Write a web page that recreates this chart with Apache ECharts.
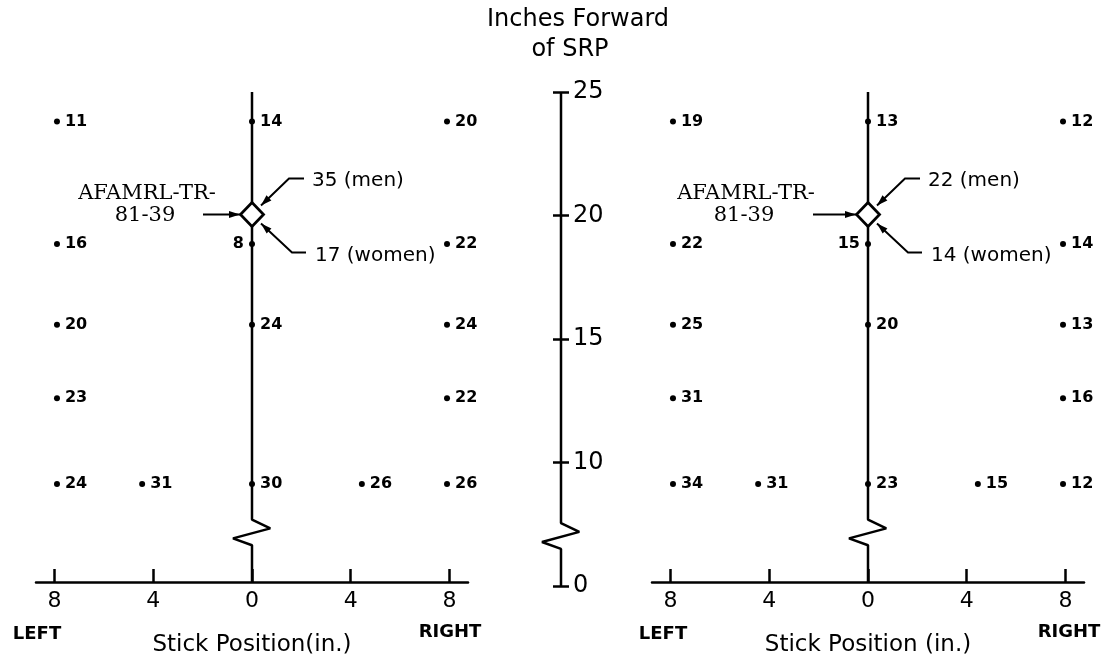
<!DOCTYPE html>
<html><head><meta charset="utf-8">
<script src="https://cdn.jsdelivr.net/npm/echarts@6/dist/echarts.min.js"></script>
<style>html,body{margin:0;padding:0;background:#fff}#c{width:1110px;height:662px}</style>
</head><body><div id="c"></div><script>
// ---- data ----
const xTicks = [-8, -4, 0, 4, 8];          // stick position ticks (shown as absolute values)
const yTicks = [5, 10, 15, 20, 25];        // 5 = broken-axis origin, labelled "0"
const yBreakOrigin = 5;

// Panel 1
const p1X = [-7.9, 0, 7.9, -7.9, 0, 7.9, -7.9, 0, 7.9, -7.9, 7.9, -7.9, -4.45, 0, 4.45, 7.9];
const p1Y = [23.8, 23.8, 23.8, 18.8, 18.8, 18.8, 15.5, 15.5, 15.5, 12.5, 12.5, 9, 9, 9, 9, 9];
const p1N = [11, 14, 20, 16, 8, 22, 20, 24, 24, 23, 22, 24, 31, 30, 26, 26];
// Panel 2
const p2X = [-7.9, 0, 7.9, -7.9, 0, 7.9, -7.9, 0, 7.9, -7.9, 7.9, -7.9, -4.45, 0, 4.45, 7.9];
const p2Y = [23.8, 23.8, 23.8, 18.8, 18.8, 18.8, 15.5, 15.5, 15.5, 12.5, 12.5, 9, 9, 9, 9, 9];
const p2N = [19, 13, 12, 22, 15, 14, 25, 20, 13, 31, 16, 34, 31, 23, 15, 12];

// AFAMRL-TR-81-39 reference point (diamond) and its counts
const refX = [0, 0];
const refY = [20, 20];
const refMen = [35, 22];
const refWomen = [17, 14];

// stick line / axis with break zigzag (axis units)
const breakPath = [[0, 25], [0, 7.55], [0.74, 7.19], [-0.77, 6.78], [0, 6.5], [0, 5]];

const SANS = 'DejaVu Sans';
const SERIF = 'DejaVu Serif';

function pts(X, Y, N) {
  return X.map((x, i) => {
    const item = { value: [x, Y[i], N[i]] };
    if (x === 0 && Y[i] === 18.8) item.label = { position: 'left', distance: 5 };
    return item;
  });
}

const xAxisCommon = (gi, name) => ({
  gridIndex: gi, type: 'value', min: -8.75, max: 8.75,
  axisLine: { onZero: false, lineStyle: { color: '#000', width: 2.5 } },
  axisTick: { inside: true, length: 13, customValues: xTicks, lineStyle: { color: '#000', width: 2.5 } },
  axisLabel: { customValues: xTicks, formatter: v => String(Math.abs(v)), fontSize: 22, fontFamily: SANS, color: '#000', margin: 8 },
  splitLine: { show: false },
  name: name, nameLocation: 'middle', nameGap: 52,
  nameTextStyle: { fontSize: 23, fontFamily: SANS, color: '#000' }
});
const yHidden = gi => ({ gridIndex: gi, type: 'value', min: 5, max: 25, show: false });

const ptSeries = (xi, data) => ({
  type: 'scatter', xAxisIndex: xi, yAxisIndex: xi, data: data,
  symbol: 'circle', symbolSize: 6, itemStyle: { color: '#000', opacity: 1 }, z: 4, silent: true,
  label: { show: true, position: 'right', distance: 5, formatter: p => String(p.value[2]),
           fontSize: 16, fontWeight: 'bold', fontFamily: SANS, color: '#000', opacity: 1 }
});
const lineSeries = (xi, yi) => ({
  type: 'line', xAxisIndex: xi, yAxisIndex: yi, data: breakPath, symbol: 'none', clip: false,
  lineStyle: { color: '#000', width: 2.5 }, z: 2, silent: true, animation: false
});
const MID_HALF = 24.7 * 1.5;   // half width of middle grid in px (x range -1.5..1.5)
const diamondSeries = i => ({
  type: 'scatter', xAxisIndex: i, yAxisIndex: i, data: [[refX[i], refY[i]]], symbol: 'diamond',
  symbolSize: [23, 24], itemStyle: { color: '#fff', borderColor: '#000', borderWidth: 2.8, opacity: 1 }, z: 5, silent: true
});

const chart = echarts.init(document.getElementById('c'), null, { renderer: 'canvas' });
chart.setOption({
  animation: false,
  backgroundColor: '#fff',
  grid: [
    { left: 36, top: 92, width: 432, height: 494 },
    { left: 652, top: 92, width: 432, height: 494 },
    { left: 561 - MID_HALF, top: 92, width: 2 * MID_HALF, height: 494 }
  ],
  xAxis: [
    xAxisCommon(0, 'Stick Position(in.)'),
    xAxisCommon(1, 'Stick Position (in.)'),
    { gridIndex: 2, type: 'value', min: -1.5, max: 1.5, show: false }
  ],
  yAxis: [
    yHidden(0), yHidden(1),
    { gridIndex: 2, type: 'value', min: 5, max: 25, interval: 5, position: 'left', offset: -MID_HALF,
      axisLine: { show: false, onZero: false }, splitLine: { show: false },
      axisTick: { show: true, inside: false, length: 8, lineStyle: { color: '#000', width: 2.5 } },
      axisLabel: { show: false } },
    { gridIndex: 2, type: 'value', min: 5, max: 25, interval: 5, position: 'left', offset: -MID_HALF,
      axisLine: { show: false, onZero: false }, splitLine: { show: false },
      axisTick: { show: true, inside: true, length: 8, lineStyle: { color: '#000', width: 2.5 } },
      axisLabel: { inside: true, margin: 12, fontSize: 24, fontFamily: SANS, color: '#000',
                   formatter: v => v === yBreakOrigin ? '0' : String(v) } }
  ],
  series: [
    lineSeries(0, 0), lineSeries(1, 1), lineSeries(2, 2),
    ptSeries(0, pts(p1X, p1Y, p1N)),
    ptSeries(1, pts(p2X, p2Y, p2N)),
    diamondSeries(0), diamondSeries(1)
  ]
});

// ---- annotations, placed relative to the reference point ----
function head(tip, from, len, hw) {
  len = len || 10; hw = hw || 3.5;
  const dx = tip[0] - from[0], dy = tip[1] - from[1];
  const L = Math.hypot(dx, dy), ux = dx / L, uy = dy / L;
  const bx = tip[0] - ux * len, by = tip[1] - uy * len;
  return { type: 'polygon', z: 10, shape: { points: [tip, [bx - uy * hw, by + ux * hw], [bx + uy * hw, by - ux * hw]] },
           style: { fill: '#000' }, silent: true };
}
function pl(points) {
  return { type: 'polyline', z: 10, shape: { points: points }, style: { stroke: '#000', lineWidth: 2, fill: null }, silent: true };
}
function txt(x, y, text, font, align) {
  return { type: 'text', z: 10, x: x, y: y, silent: true,
           style: { text: text, font: font, fill: '#000', align: align || 'left', verticalAlign: 'middle' } };
}
const panelCfg = [
  { refTextDx: -105, arrowStart: -49 },
  { refTextDx: -122, arrowStart: -55 }
];
const g = [];
for (let i = 0; i < 2; i++) {
  const c = chart.convertToPixel({ gridIndex: i }, [refX[i], refY[i]]);
  const cx = c[0], cy = c[1];
  const cf = panelCfg[i];
  // horizontal arrow from the report label
  const tipL = [cx - 12, cy], fromL = [cx + cf.arrowStart, cy];
  g.push(pl([fromL, tipL]), head(tipL, fromL, 11, 3.5));
  g.push(txt(cx + cf.refTextDx, cy - 21, 'AFAMRL-TR-', '21px "' + SERIF + '"', 'center'));
  g.push(txt(cx + cf.refTextDx - 2, cy + 1, '81-39', '21px "' + SERIF + '"', 'center'));
  // men
  const mTip = [cx + 9, cy - 9], mCorner = [cx + 37, cy - 36], mEnd = [cx + 52, cy - 36];
  g.push(pl([mEnd, mCorner, mTip]), head(mTip, mCorner, 11, 3.5));
  g.push(txt(cx + 60, cy - 34, refMen[i] + ' (men)', '20px "' + SANS + '"'));
  // women
  const wTip = [cx + 9, cy + 9], wCorner = [cx + 40, cy + 38], wEnd = [cx + 54, cy + 38];
  g.push(pl([wEnd, wCorner, wTip]), head(wTip, wCorner, 11, 3.5));
  g.push(txt(cx + 63, cy + 41, refWomen[i] + ' (women)', '20px "' + SANS + '"'));
}
// side labels and title
g.push(txt(37, 634, 'LEFT', 'bold 18px "' + SANS + '"', 'center'));
g.push(txt(450, 632, 'RIGHT', 'bold 18px "' + SANS + '"', 'center'));
g.push(txt(663, 634, 'LEFT', 'bold 18px "' + SANS + '"', 'center'));
g.push(txt(1069, 632, 'RIGHT', 'bold 18px "' + SANS + '"', 'center'));
g.push(txt(578, 20, 'Inches Forward', '24px "' + SANS + '"', 'center'));
g.push(txt(570, 50, 'of SRP', '24px "' + SANS + '"', 'center'));
chart.setOption({ graphic: g });
</script></body></html>
